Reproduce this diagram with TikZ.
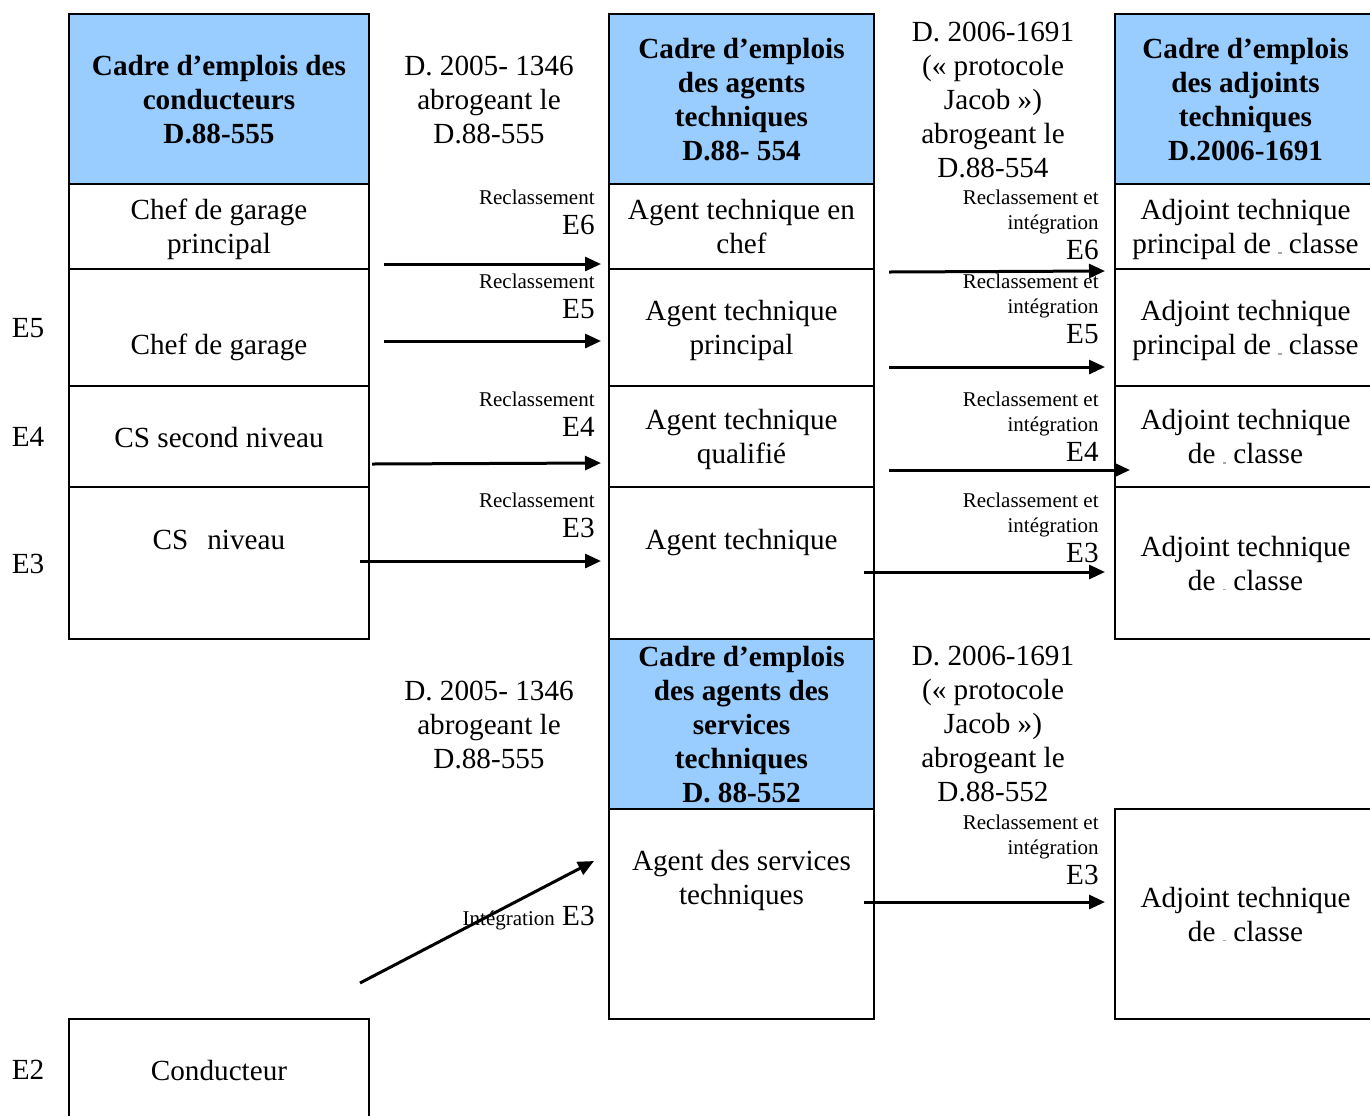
\documentclass[tikz,border=0pt]{standalone}
\usepackage{fontspec}
\setmainfont{Liberation Serif}
\usepackage{xcolor}
\usepackage{tikz}
\usetikzlibrary{positioning,arrows.meta}

\definecolor{bleucadre}{RGB}{153,204,255}
\newcommand{\rangvide}{\textcolor{black!35}{\rule{1.6pt}{0.6pt}}}
\newcommand{\grand}{\fontsize{14.6}{17}\selectfont}
\newcommand{\etai}{\rule{0pt}{10.8pt}}

\begin{document}
\begin{tikzpicture}[x=0.5pt, y=-0.5pt, node distance=0pt]
    \tikzstyle{box} = [draw=black, line width=1.3pt, inner sep=0pt, outer sep=0pt, align=center, font=\grand, execute at begin node=\etai, text depth=-0.5pt]
    \tikzstyle{cadre} = [box, fill=bleucadre, minimum height=85pt, font=\bfseries\grand]
    \tikzstyle{colg} = [minimum width=150pt]
    \tikzstyle{colm} = [minimum width=132.5pt]
    \tikzstyle{cold} = [minimum width=130.5pt]
    \tikzstyle{decret} = [inner sep=0pt, align=center, font=\grand]
    \tikzstyle{echelon} = [inner sep=0pt, font=\grand]
    \tikzstyle{reclass} = [inner sep=0pt, align=right, anchor=north east, font=\fontsize{10.5}{12.5}\selectfont]
    \tikzstyle{fleche} = [line width=1.5pt, -{Triangle[length=8pt, width=7pt]}]

    \useasboundingbox (0,0) rectangle (1370,1115);
    \clip (0,0) rectangle (1370,1115);

    % agents techniques (milieu)
    \node [cadre, colm] (T0) at (741.5,99) {Cadre d’emplois\\des agents\\techniques\\D.88- 554};
    \node [box, colm, minimum height=42.5pt, below = of T0] (T1) {Agent technique en\\chef};
    \node [box, colm, minimum height=58.5pt, below = of T1] (T2) {Agent technique\\principal};
    \node [box, colm, minimum height=50.5pt, below = of T2] (T3) {Agent technique\\qualifié};
    \node [box, colm, minimum height=76pt, below = of T3] (T4) {Agent technique\\[6.2pt]\mbox{}};
    \node [cadre, colm, below = of T4] (S0) {Cadre d’emplois\\des agents des\\services\\techniques\\D. 88-552};
    \node [box, colm, minimum height=105pt, below = of S0] (S1) {Agent des services\\techniques\\[19.2pt]\mbox{}};

    % conducteurs (gauche)
    \node [cadre, colg, left = 120pt of T0] (C0) {Cadre d’emplois des\\conducteurs\\D.88-555};
    \node [box, colg, minimum height=42.5pt, below = of C0] (C1) {Chef de garage\\principal};
    \node [box, colg, minimum height=58.5pt, below = of C1] (C2) {\rule{0pt}{26.7pt}Chef de garage};
    \node [box, colg, minimum height=50.5pt, below = of C2] (C3) {CS second niveau};
    \node [box, colg, minimum height=76pt, below = of C3] (C4) {CS\hspace{.65em}niveau\\[6.2pt]\mbox{}};
    \node [box, colg, minimum height=51pt, anchor=north] (C5) at (219,1019) {Conducteur};

    % adjoints techniques (droite)
    \node [cadre, cold, right = 120.5pt of T0] (A0) {Cadre d’emplois\\des adjoints\\techniques\\D.2006-1691};
    \node [box, cold, minimum height=42.5pt, below = of A0] (A1) {Adjoint technique\\principal de \rangvide{} classe};
    \node [box, cold, minimum height=58.5pt, below = of A1] (A2) {Adjoint technique\\principal de \rangvide{} classe};
    \node [box, cold, minimum height=50.5pt, below = of A2] (A3) {Adjoint technique\\de \rangvide{} classe};
    \node [box, cold, minimum height=76pt, below = of A3] (A4) {Adjoint technique\\de \rangvide{} classe};
    \node [box, cold, minimum height=105pt, right = 120.5pt of S1] (A5) {Adjoint technique\\de \rangvide{} classe};

    % echelles
    \node [echelon] (E5) at (28,328) {E5};
    \node [echelon] (E4) at (28,437) {E4};
    \node [echelon] (E3) at (28,564) {E3};
    \node [echelon] (E2) at (28,1070) {E2};

    % decrets
    \node [decret] (D1) at (489,100) {D. 2005- 1346\\abrogeant le\\D.88-555};
    \node [decret] (D2) at (993,100) {D. 2006-1691\\(« protocole\\Jacob »)\\abrogeant le\\D.88-554};
    \node [decret] (D3) at (489,725) {D. 2005- 1346\\abrogeant le\\D.88-555};
    \node [decret] (D4) at (993,724) {D. 2006-1691\\(« protocole\\Jacob »)\\abrogeant le\\D.88-552};

    % reclassements
    \node [reclass] (L1) at (595,189.5) {Reclassement\\[2.5pt]{\grand E6}};
    \node [reclass] (L2) at (595,273.5) {Reclassement\\[2.5pt]{\grand E5}};
    \node [reclass] (L3) at (595,391.5) {Reclassement\\[2.5pt]{\grand E4}};
    \node [reclass] (L4) at (595,492.5) {Reclassement\\[2.5pt]{\grand E3}};
    \node [reclass] (R1) at (1099,189.5) {Reclassement et\\intégration\\[2.5pt]{\grand E6}};
    \node [reclass] (R2) at (1099,273.5) {Reclassement et\\intégration\\[2.5pt]{\grand E5}};
    \node [reclass] (R3) at (1099,391.5) {Reclassement et\\intégration\\[2.5pt]{\grand E4}};
    \node [reclass] (R4) at (1099,492.5) {Reclassement et\\intégration\\[2.5pt]{\grand E3}};
    \node [reclass] (R5) at (1099,814.5) {Reclassement et\\intégration\\[2.5pt]{\grand E3}};
    \node [inner sep=0pt, anchor=base east, font=\grand] (LI) at (595,925) {{\fontsize{10.5}{12.5}\selectfont Intégration} E3};

    \coordinate (a1) at (384,264);  \coordinate (b1) at (601,264);
    \coordinate (a2) at (384,341);  \coordinate (b2) at (601,341);
    \coordinate (a3) at (372,464);  \coordinate (b3) at (601,463);
    \coordinate (a4) at (360,561);  \coordinate (b4) at (601,561);
    \coordinate (c1) at (889,272);  \coordinate (d1) at (1105,271);
    \coordinate (c2) at (889,367);  \coordinate (d2) at (1105,367);
    \coordinate (c3) at (889,470);  \coordinate (d3) at (1130,470);
    \coordinate (c4) at (864,572);  \coordinate (d4) at (1105,572);
    \coordinate (c5) at (864,902);  \coordinate (d5) at (1105,902);
    \coordinate (g0) at (360,983);  \coordinate (g1) at (594,861);

    \draw [fleche] (a1) -- (b1);
    \draw [fleche] (a2) -- (b2);
    \draw [fleche] (a3) -- (b3);
    \draw [fleche] (a4) -- (b4);
    \draw [fleche] (c1) -- (d1);
    \draw [fleche] (c2) -- (d2);
    \draw [fleche] (c3) -- (d3);
    \draw [fleche] (c4) -- (d4);
    \draw [fleche] (c5) -- (d5);
    \draw [fleche] (g0) -- (g1);
\end{tikzpicture}
\end{document}
